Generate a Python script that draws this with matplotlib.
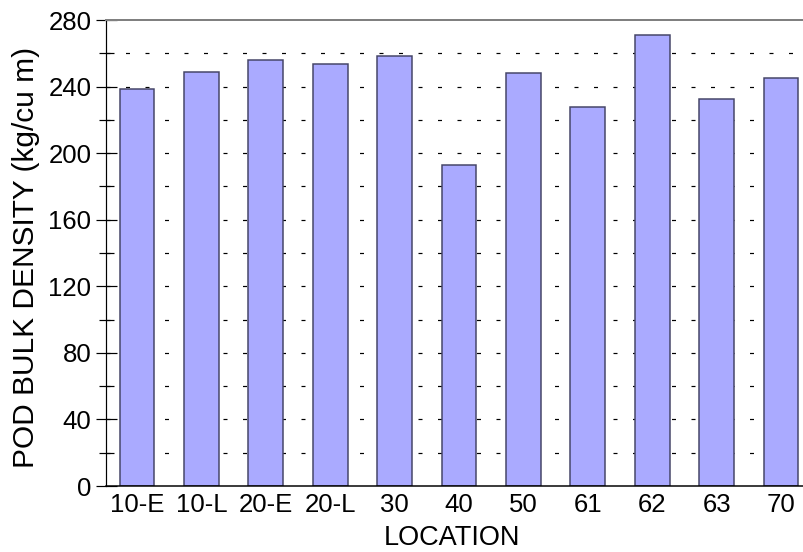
import numpy as np
import matplotlib.pyplot as plt
from matplotlib.ticker import MultipleLocator

plt.rcParams['font.family'] = ['Liberation Sans', 'DejaVu Sans']
plt.rcParams['lines.scale_dashes'] = False

# Pod bulk density by location
locations = ['10-E', '10-L', '20-E', '20-L', '30', '40', '50', '61', '62', '63', '70']
density = [238.5, 249, 256, 253.5, 258.5, 193, 248, 228, 271, 232.5, 245]

px = 0.72  # one pixel in points at dpi 100
W, H = 804, 552

fig = plt.figure(figsize=(W / 100, H / 100), dpi=100)
ax = fig.add_axes([106 / W, 1 - 486 / H, 698 / W, 466 / H])

x = np.arange(len(locations))

# dashed grid every 20, behind the bars
for yv in range(20, 280, 20):
    ax.axhline(yv, color='black', lw=1.2 * px, dashes=(4 * px, 15.5 * px), zorder=1)

ax.bar(x, density, width=0.54, color='#aaaaff', edgecolor='#444466', linewidth=1.5 * px, zorder=2)

ax.set_xlim(-0.481, 10.357)
ax.set_ylim(0, 280)
ax.set_xticks(x)
ax.set_xticklabels(locations)
ax.yaxis.set_major_locator(MultipleLocator(40))
ax.yaxis.set_minor_locator(MultipleLocator(20))

ax.tick_params(axis='x', length=0, labelsize=18.5, pad=5)
ax.tick_params(axis='y', which='major', direction='inout', length=21 * px, width=1.2 * px, labelsize=18.5, pad=3)
ax.tick_params(axis='y', which='minor', direction='inout', length=15 * px, width=1.2 * px)

ax.spines['right'].set_visible(False)
ax.spines['top'].set_color('#808080')
ax.spines['top'].set_linewidth(2 * px)
ax.spines['left'].set_linewidth(1.2 * px)
ax.spines['bottom'].set_linewidth(1.5 * px)

fig.text(26 / W, 1 - 257.5 / H, 'POD BULK DENSITY (kg/cu m)', fontsize=21.5,
         rotation=90, ha='center', va='center')
fig.text(452 / W, 1 / H, 'LOCATION', fontsize=19.5, ha='center', va='bottom')

fig.savefig('out.png', dpi=100)
